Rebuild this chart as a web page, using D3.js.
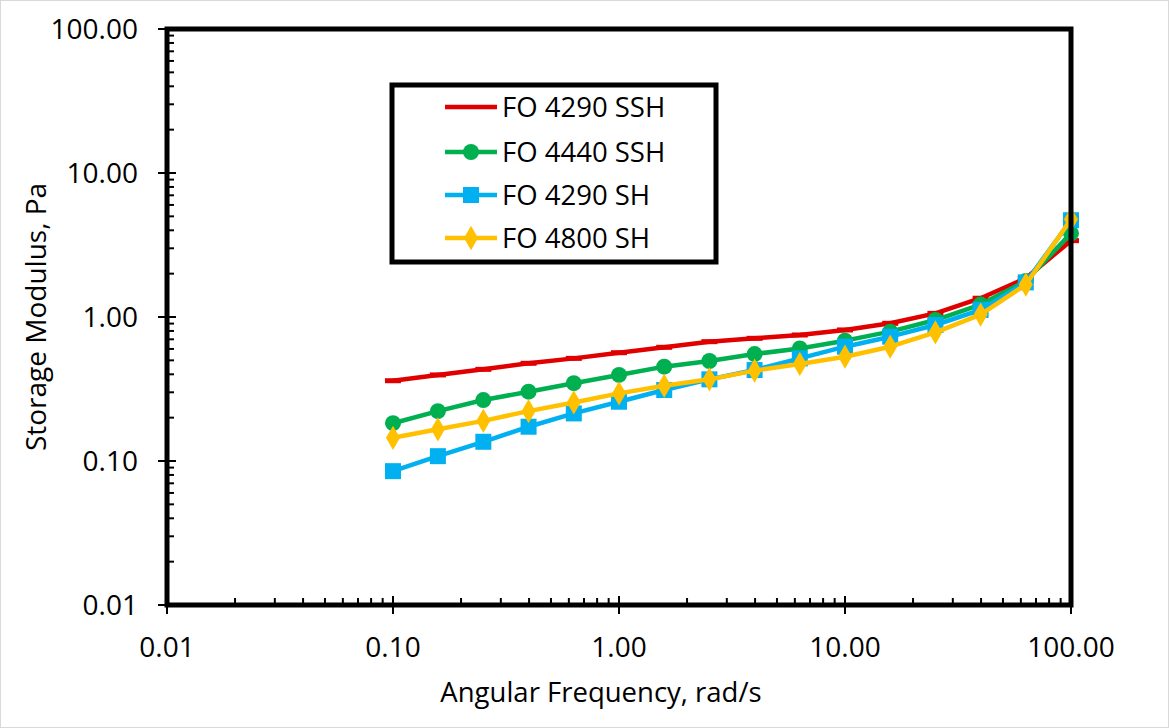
<!DOCTYPE html>
<html><head><meta charset="utf-8">
<script src="https://cdn.jsdelivr.net/npm/d3@7"></script>
<style>body{margin:0;background:#fff;}svg{display:block;}</style>
</head><body>
<svg id="c" width="1169" height="728"></svg>
<script>
const freq = [0.1, 0.158, 0.251, 0.398, 0.631, 1.0, 1.585, 2.512, 3.981, 6.31, 10, 15.85, 25.12, 39.81, 63.1, 100];
const fo4290SSH = [0.361, 0.396, 0.433, 0.477, 0.516, 0.565, 0.616, 0.674, 0.711, 0.750, 0.813, 0.904, 1.06, 1.35, 1.86, 3.39];
const fo4440SSH = [0.183, 0.222, 0.265, 0.303, 0.347, 0.396, 0.452, 0.495, 0.553, 0.605, 0.685, 0.791, 0.953, 1.22, 1.78, 3.81];
const fo4290SH  = [0.085, 0.108, 0.136, 0.173, 0.214, 0.258, 0.311, 0.369, 0.428, 0.516, 0.622, 0.73, 0.88, 1.12, 1.74, 4.7];
const fo4800SH  = [0.145, 0.166, 0.190, 0.222, 0.255, 0.295, 0.333, 0.369, 0.424, 0.472, 0.53, 0.622, 0.783, 1.04, 1.68, 4.77];
const seriesNames = ["FO 4290 SSH", "FO 4440 SSH", "FO 4290 SH", "FO 4800 SH"];
const tickValues = [0.01, 0.1, 1, 10, 100];
const xTitle = "Angular Frequency, rad/s";
const yTitle = "Storage Modulus, Pa";

const series = [
  {name: seriesNames[0], vals: fo4290SSH, color: "#E00000", marker: "dash"},
  {name: seriesNames[1], vals: fo4440SSH, color: "#00B050", marker: "circle"},
  {name: seriesNames[2], vals: fo4290SH,  color: "#00B0F0", marker: "square"},
  {name: seriesNames[3], vals: fo4800SH,  color: "#FFC000", marker: "diamond"}
];

const svg = d3.select("#c");
const font = "'Open Sans', sans-serif";
const L = 167, R = 1071, T = 29, B = 605;
const x = d3.scaleLog().domain([0.01, 100]).range([L, R]);
const y = d3.scaleLog().domain([0.01, 100]).range([B, T]);

svg.append("rect").attr("x",0.5).attr("y",0.5).attr("width",1168).attr("height",727)
  .attr("fill","#fff").attr("stroke","#d9d9d9").attr("stroke-width",1);

// minor ticks
const minors = [];
for (let d = 0.01; d < 100; d *= 10) for (let k = 2; k <= 9; k++) minors.push(d * k);
const g = svg.append("g");
g.selectAll(".mx").data(minors).enter().append("line")
  .attr("x1", d => x(d)).attr("x2", d => x(d)).attr("y1", B).attr("y2", B - 7)
  .attr("stroke", "#000").attr("stroke-width", 2);
g.selectAll(".my").data(minors).enter().append("line")
  .attr("y1", d => y(d)).attr("y2", d => y(d)).attr("x1", L).attr("x2", L + 7)
  .attr("stroke", "#000").attr("stroke-width", 2);
// major ticks
g.selectAll(".Mx").data(tickValues).enter().append("line")
  .attr("x1", d => x(d)).attr("x2", d => x(d)).attr("y1", B - 9).attr("y2", B + 9)
  .attr("stroke", "#000").attr("stroke-width", 2);
g.selectAll(".My").data(tickValues).enter().append("line")
  .attr("y1", d => y(d)).attr("y2", d => y(d)).attr("x1", L - 9).attr("x2", L + 9)
  .attr("stroke", "#000").attr("stroke-width", 2);

// tick labels
g.selectAll(".lx").data(tickValues).enter().append("text")
  .attr("x", d => x(d)).attr("y", B + 52).attr("text-anchor", "middle")
  .attr("font-family", font).attr("font-size", 28).attr("fill", "#000")
  .text(d => d3.format(".2f")(d));
g.selectAll(".ly").data(tickValues).enter().append("text")
  .attr("x", L - 29).attr("y", d => y(d) + 10).attr("text-anchor", "end")
  .attr("font-family", font).attr("font-size", 28).attr("fill", "#000")
  .text(d => d3.format(".2f")(d));

// axis titles
svg.append("text").attr("x", 601).attr("y", 702).attr("text-anchor", "middle")
  .attr("font-family", font).attr("font-size", 27.5).text(xTitle);
svg.append("text").attr("transform", `translate(46,${(T+B)/2}) rotate(-90)`)
  .attr("text-anchor", "middle").attr("font-family", font).attr("font-size", 28).text(yTitle);

// lines & markers
const line = d3.line().x((d) => x(d[0])).y(d => y(d[1]));
const sym = {
  circle: d3.symbol().type(d3.symbolCircle).size(Math.PI * 8 * 8),
  square: d3.symbol().type(d3.symbolSquare).size(16 * 16),
  diamond: d3.symbol().type(d3.symbolDiamond).size(170)
};
series.forEach(s => {
  const pts = freq.map((f, i) => [f, s.vals[i]]);
  const sg = svg.append("g");
  sg.append("path").attr("d", line(pts)).attr("fill", "none")
    .attr("stroke", s.color).attr("stroke-width", 4.5).attr("stroke-linejoin", "round");
  if (s.marker === "dash") {
    sg.selectAll("rect").data(pts).enter().append("rect")
      .attr("x", d => x(d[0]) - 8).attr("y", d => y(d[1]) - 2.5)
      .attr("width", 16).attr("height", 5).attr("fill", s.color);
  } else {
    sg.selectAll("path.m").data(pts).enter().append("path").attr("class", "m")
      .attr("transform", d => `translate(${x(d[0])},${y(d[1])})`)
      .attr("d", sym[s.marker]()).attr("fill", s.color);
  }
});

// plot frame
svg.append("rect").attr("x", L).attr("y", T).attr("width", R - L).attr("height", B - T)
  .attr("fill", "none").attr("stroke", "#000").attr("stroke-width", 5);

// legend
const lg = svg.append("g");
lg.append("rect").attr("x", 392).attr("y", 85).attr("width", 324).attr("height", 177)
  .attr("fill", "#fff").attr("stroke", "#000").attr("stroke-width", 5);
const rowsY = [107, 152, 195, 238];
series.forEach((s, i) => {
  const yy = rowsY[i];
  lg.append("line").attr("x1", 445).attr("x2", 497).attr("y1", yy).attr("y2", yy)
    .attr("stroke", s.color).attr("stroke-width", 4.5);
  if (s.marker !== "dash") {
    lg.append("path").attr("transform", `translate(471,${yy})`).attr("d", sym[s.marker]()).attr("fill", s.color);
  }
  lg.append("text").attr("x", 502).attr("y", yy + 9.5).attr("font-family", font)
    .attr("font-size", 27.5).text(s.name);
});
</script>
</body></html>
